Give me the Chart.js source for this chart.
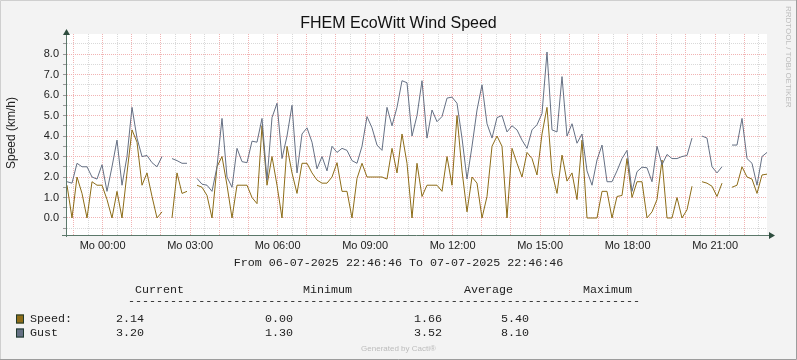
<!DOCTYPE html>
<html>
<head>
<meta charset="utf-8">
<script src="https://cdn.jsdelivr.net/npm/chart.js@4/dist/chart.umd.min.js"></script>
<style>
  html, body { margin: 0; padding: 0; background: #f3f3f3; }
  #wrap { width: 797px; height: 360px; }
</style>
</head>
<body>
<div id="wrap"><canvas id="windChart" width="797" height="360"></canvas></div>
<script>
// time window: 06-07-2025 22:46:46 .. 07-07-2025 22:46:46
const startClock = 22 + 46 / 60 + 46 / 3600;
const spanHours = 24;

// wind speed samples (km/h), ~10 min apart, null = no data
const speed = [
  1.6, 0, 2.0, 1.2, 0, 1.77, 1.6, 1.6, 0.9, 0,
  1.3, 0, 2.2, 4.3, 3.7, 1.6, 2.2, 1.05, 0, 0.3,
  null, 0, 2.2, 1.2, 1.3, null, 1.6, 1.5, 1.1, 0,
  2.5, 3.0, 1.6, 0, 1.6, 1.6, 1.6, 1.0, 0.7, 4.5,
  1.6, 3.0, 1.6, 0, 3.5, 2.2, 1.2, 2.67, 2.67, 2.2,
  1.85, 1.7, 1.7, 2.0, 2.7, 1.3, 1.3, 0, 1.93, 2.67,
  2.0, 2.0, 2.0, 2.0, 1.9, 3.4, 2.2, 4.1, 2.67, 0,
  2.67, 1.05, 1.6, 1.6, 1.6, 1.3, 3.0, 1.6, 5.0, 2.3,
  0.3, 2.0, 1.7, 0, 1.05, 3.5, 4.0, 3.5, 0, 3.4,
  2.67, 2.0, 3.2, 2.9, 2.1, 4.1, 5.4, 2.2, 1.2, 3.07,
  1.8, 2.2, 0.9, 3.8, 0, 0, 0, 1.3, 1.3, 0,
  1.05, 1.1, 2.9, 1.0, 1.77, 1.77, 0, 0.3, 0.9, 2.83,
  0, 0, 1.0, 0, 0.4, 1.55, null, 1.77, 1.7, 1.55,
  1.05, 1.7, null, 1.5, 1.6, 2.5, 2.0, 1.9, 1.2, 2.1,
  2.14
];

// gust samples (km/h)
const gust = [
  1.77, 1.7, 2.67, 2.5, 2.5, 2.0, 1.9, 2.6, 1.3, 2.5,
  3.8, 1.6, 3.0, 5.4, 3.9, 3.0, 3.05, 2.7, 2.5, 3.0,
  null, 2.9, 2.8, 2.67, 2.67, null, 1.93, 1.65, 1.6, 1.3,
  2.5, 4.86, 2.0, 1.5, 3.4, 2.75, 2.7, 3.75, 3.7, 4.86,
  1.85, 4.9, 5.6, 2.9, 4.0, 5.5, 2.2, 4.1, 4.4, 3.7,
  2.4, 3.0, 2.3, 3.5, 3.2, 3.4, 3.3, 2.8, 2.67, 3.5,
  4.95, 4.4, 3.56, 3.3, 5.4, 4.5, 5.4, 6.7, 6.6, 4.0,
  5.0, 6.7, 3.9, 5.27, 4.7, 4.95, 5.85, 5.9, 5.6, 3.9,
  1.9, 3.5, 5.27, 6.5, 4.6, 3.9, 4.9, 5.0, 4.2, 4.5,
  4.3, 3.8, 3.4, 4.3, 4.55, 5.1, 8.1, 4.3, 4.2, 6.9,
  4.0, 4.6, 3.65, 4.1, 2.3, 1.6, 2.83, 3.56, 1.77, 1.77,
  2.3, 2.9, 3.3, 1.3, 2.26, 2.48, 2.45, 1.77, 3.5, 2.6,
  3.1, 2.9, 2.9, 3.0, 3.05, 3.9, null, 4.0, 3.9, 2.5,
  2.2, 2.5, null, 3.56, 3.56, 4.86, 2.9, 2.67, 1.6, 3.0,
  3.2
];

const sampleHours = speed.map((v, i) => i * spanHours / (speed.length - 1));

// x labels: clock hour -> text
const labelClock = [0, 3, 6, 9, 12, 15, 18, 21];
const labelText = ['Mo 00:00', 'Mo 03:00', 'Mo 06:00', 'Mo 09:00', 'Mo 12:00', 'Mo 15:00', 'Mo 18:00', 'Mo 21:00'];

// legend table
const seriesNames = ['Speed:', 'Gust'];
const statCurrent = ['2.14', '3.20'];
const statMinimum = ['0.00', '1.30'];
const statAverage = ['1.66', '3.52'];
const statMaximum = ['5.40', '8.10'];

const speedColor = '#8d6c17';
const gustColor = '#657084';
const majorGrid = '#f1b3b3';
const minorGrid = '#d9d9d9';
const axisColor = '#5b786a';

const toPoints = arr => arr.map((v, i) => ({ x: sampleHours[i], y: v }));
const near = (a, b) => Math.abs(a - b) < 1e-6;

const decor = {
  id: 'decor',
  beforeDraw(chart) {
    const { ctx, chartArea: a } = chart;
    ctx.save();
    ctx.fillStyle = '#f3f3f3';
    ctx.fillRect(0, 0, chart.width, chart.height);
    ctx.fillStyle = '#ffffff';
    ctx.fillRect(a.left, a.top, a.right - a.left, a.bottom - a.top);
    ctx.restore();
  },
  afterDatasetsDraw(chart) {
    const { ctx, chartArea: a } = chart;
    ctx.save();
    // axes
    ctx.strokeStyle = axisColor;
    ctx.lineWidth = 1;
    ctx.beginPath();
    ctx.moveTo(a.left - 0.5, a.bottom + 2);
    ctx.lineTo(a.left - 0.5, a.top - 1);
    ctx.moveTo(a.left - 5, a.bottom + 0.5);
    ctx.lineTo(a.right + 4, a.bottom + 0.5);
    ctx.stroke();
    ctx.fillStyle = '#2e4d3e';
    ctx.beginPath();
    ctx.moveTo(a.left - 0.5, a.top - 5);
    ctx.lineTo(a.left - 4, a.top + 1);
    ctx.lineTo(a.left + 3, a.top + 1);
    ctx.closePath();
    ctx.fill();
    ctx.beginPath();
    ctx.moveTo(a.right + 8, a.bottom + 0.5);
    ctx.lineTo(a.right + 2, a.bottom - 3);
    ctx.lineTo(a.right + 2, a.bottom + 4);
    ctx.closePath();
    ctx.fill();

    // title
    ctx.fillStyle = '#111';
    ctx.textAlign = 'center';
    ctx.textBaseline = 'alphabetic';
    ctx.font = '16px "Liberation Sans", Arial, sans-serif';
    ctx.fillText('FHEM EcoWitt Wind Speed', 398.5, 28);

    // y axis title
    ctx.save();
    ctx.translate(11.5, 133);
    ctx.rotate(-Math.PI / 2);
    ctx.textBaseline = 'middle';
    ctx.font = '12px "Liberation Sans", Arial, sans-serif';
    ctx.fillStyle = '#222';
    ctx.fillText('Speed (km/h)', 0, 0);
    ctx.restore();

    // watermark right
    ctx.save();
    ctx.translate(788.5, 6);
    ctx.rotate(Math.PI / 2);
    ctx.textAlign = 'left';
    ctx.textBaseline = 'middle';
    ctx.font = '8px "Liberation Sans", Arial, sans-serif';
    ctx.fillStyle = '#bdbdbd';
    ctx.fillText('RRDTOOL / TOBI OETIKER', 0, 0);
    ctx.restore();

    // period line
    ctx.font = '11.7px "Liberation Mono", monospace';
    ctx.fillStyle = '#222';
    ctx.textBaseline = 'middle';
    ctx.textAlign = 'center';
    ctx.fillText('From 06-07-2025 22:46:46 To 07-07-2025 22:46:46', 398.5, 263);

    // legend table
    ctx.textAlign = 'left';
    ctx.fillText('Current', 135, 290);
    ctx.fillText('Minimum', 303, 290);
    ctx.fillText('Average', 464, 290);
    ctx.fillText('Maximum', 583, 290);
    ctx.fillText('-'.repeat(73), 128, 301);
    const rowY = [319, 333];
    const swatch = [speedColor, gustColor];
    seriesNames.forEach((name, i) => {
      ctx.fillStyle = swatch[i];
      ctx.fillRect(16, rowY[i] - 4.5, 8, 9);
      ctx.strokeStyle = '#1f3a2e';
      ctx.strokeRect(16.5, rowY[i] - 4, 7, 8);
      ctx.fillStyle = '#222';
      ctx.fillText(name, 30, rowY[i]);
      ctx.fillText(statCurrent[i], 116, rowY[i]);
      ctx.fillText(statMinimum[i], 265, rowY[i]);
      ctx.fillText(statAverage[i], 414, rowY[i]);
      ctx.fillText(statMaximum[i], 501, rowY[i]);
    });

    ctx.textAlign = 'center';
    ctx.font = '8px "Liberation Sans", Arial, sans-serif';
    ctx.fillStyle = '#bcbcbc';
    ctx.fillText('Generated by Cacti\u00ae', 398.5, 349);

    // frame
    ctx.lineWidth = 1;
    ctx.strokeStyle = '#cfcfcf';
    ctx.beginPath();
    ctx.moveTo(0.5, chart.height);
    ctx.lineTo(0.5, 0.5);
    ctx.lineTo(chart.width, 0.5);
    ctx.stroke();
    ctx.strokeStyle = '#9c9c9c';
    ctx.beginPath();
    ctx.moveTo(chart.width - 0.5, 0);
    ctx.lineTo(chart.width - 0.5, chart.height - 0.5);
    ctx.lineTo(0, chart.height - 0.5);
    ctx.stroke();
    ctx.restore();
  }
};

new Chart(document.getElementById('windChart'), {
  type: 'line',
  data: {
    datasets: [
      {
        label: 'Gust',
        data: toPoints(gust),
        borderColor: gustColor,
        borderWidth: 1,
        pointRadius: 0,
        tension: 0,
        spanGaps: false,
        order: 0
      },
      {
        label: 'Speed',
        data: toPoints(speed),
        borderColor: speedColor,
        borderWidth: 1,
        pointRadius: 0,
        tension: 0,
        spanGaps: false,
        order: 1
      }
    ]
  },
  options: {
    responsive: false,
    animation: false,
    devicePixelRatio: 1,
    layout: { padding: { left: 0, right: 30, top: 34, bottom: 105 } },
    plugins: {
      legend: { display: false },
      title: { display: false },
      tooltip: { enabled: false }
    },
    scales: {
      x: {
        type: 'linear',
        min: 0,
        max: spanHours,
        afterFit: s => { s.height = 20; },
        afterBuildTicks: s => {
          const ticks = [];
          for (let t = Math.ceil(startClock * 2) / 2 - startClock; t <= spanHours + 1e-9; t += 0.5) {
            ticks.push({ value: t });
          }
          s.ticks = ticks;
        },
        grid: {
          drawTicks: false,
          lineWidth: 1,
          color: c => {
            const clock = startClock + c.tick.value;
            return near(clock, Math.round(clock)) ? majorGrid : minorGrid;
          }
        },
        border: { display: false, dash: [1, 1] },
        ticks: {
          autoSkip: false,
          maxRotation: 0,
          minRotation: 0,
          padding: 4,
          color: '#222',
          font: { family: '"Liberation Sans", Arial, sans-serif', size: 11 },
          callback: v => {
            const clock = (startClock + v) % 24;
            const i = labelClock.findIndex(h => near(h, clock));
            return i >= 0 ? labelText[i] : '';
          }
        }
      },
      y: {
        min: -0.83,
        max: 8.98,
        afterFit: s => { s.width = 67; },
        afterBuildTicks: s => {
          const ticks = [];
          for (let k = -1; k <= 17; k++) ticks.push({ value: k / 2 });
          s.ticks = ticks;
        },
        grid: {
          drawTicks: true,
          tickLength: 4,
          tickColor: '#9a9a9a',
          lineWidth: 1,
          color: c => Number.isInteger(c.tick.value) ? majorGrid : minorGrid
        },
        border: { display: false, dash: [1, 1] },
        ticks: {
          autoSkip: false,
          padding: 4,
          color: '#222',
          font: { family: '"Liberation Sans", Arial, sans-serif', size: 11 },
          callback: v => Number.isInteger(v) ? v.toFixed(1) : ''
        }
      }
    }
  },
  plugins: [decor]
});
</script>
</body>
</html>
